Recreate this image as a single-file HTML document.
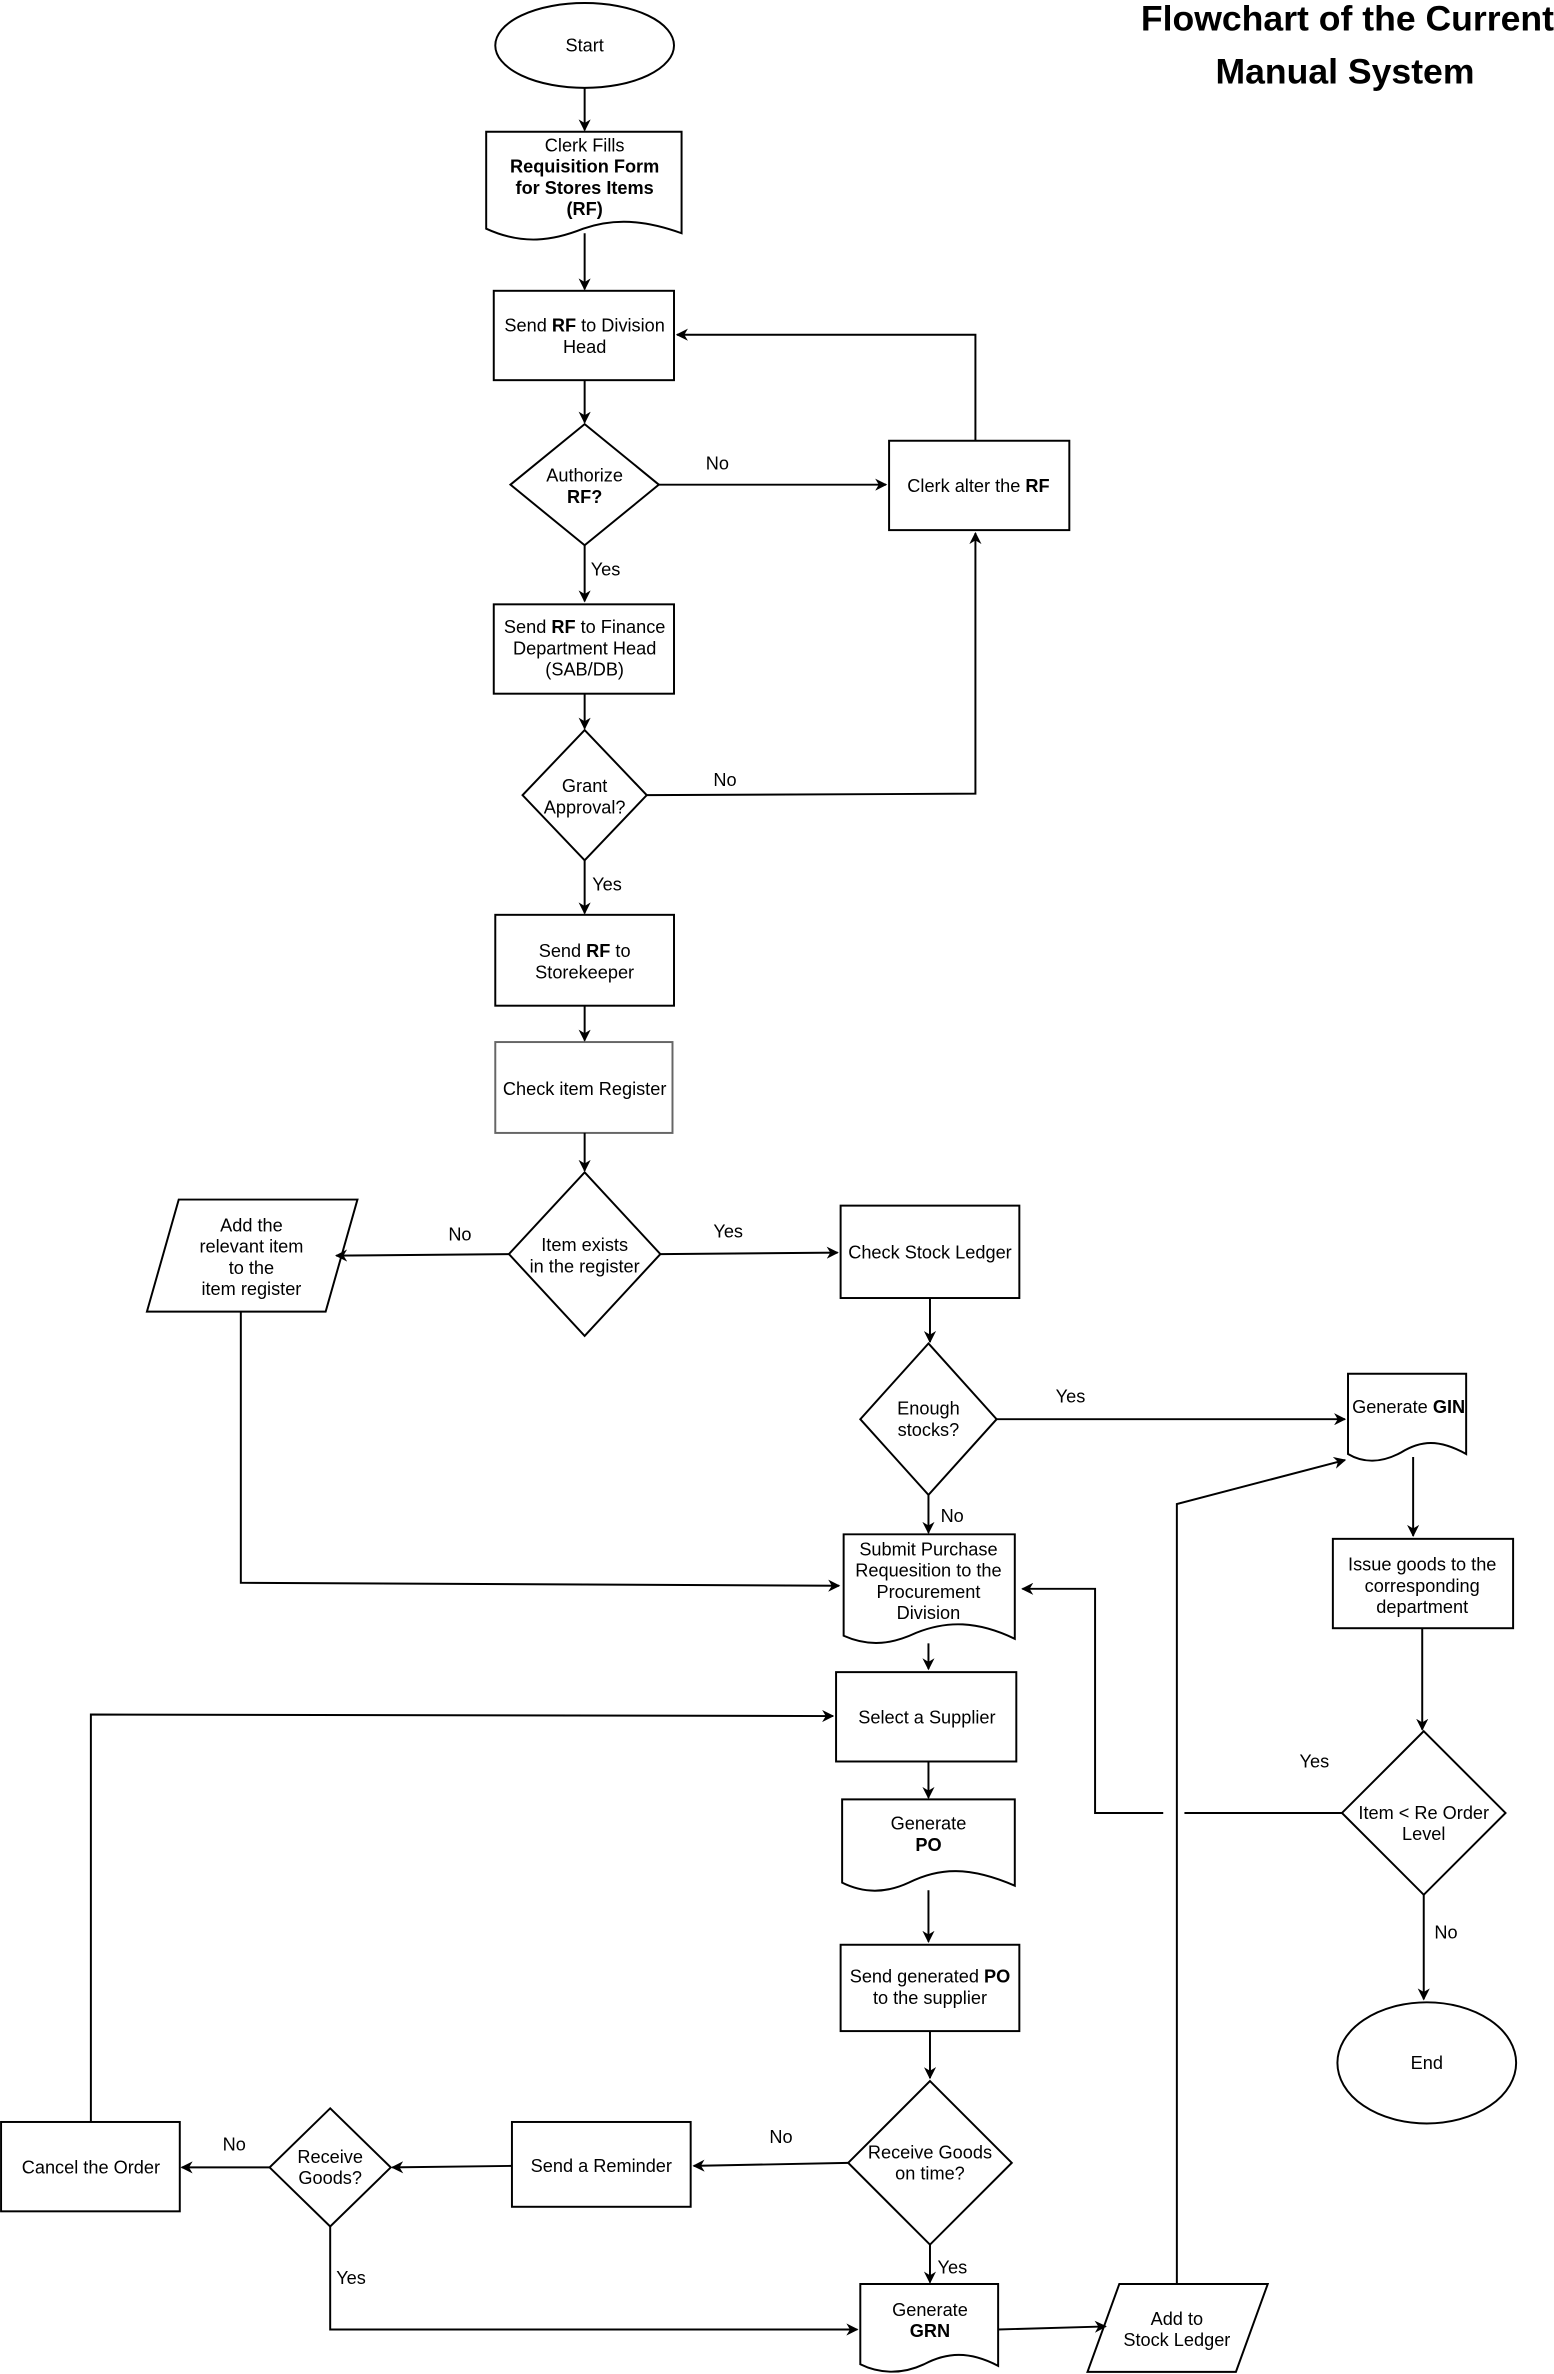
<!DOCTYPE html>
<html><head><meta charset="utf-8"><style>
html,body{margin:0;padding:0;background:#fff}
svg{display:block}
text{font-family:"Liberation Sans",sans-serif;font-size:12px;fill:#000}
.b{font-weight:bold}
</style></head><body>
<svg width="1554" height="2374" viewBox="0 0 1026 1567.4" preserveAspectRatio="none" xmlns="http://www.w3.org/2000/svg">
<defs><marker id="a" viewBox="0 0 10 10" refX="9" refY="5" markerWidth="8" markerHeight="8" orient="auto" markerUnits="userSpaceOnUse"><path d="M0,0 L10,5 L0,10 L3,5 z" fill="#000"/></marker></defs>
<g fill="#fff" stroke="#000" stroke-width="1.3">
<ellipse cx="386" cy="30" rx="59" ry="28"/>
<path d="M321,87 H450 V154 C425,145 405,144 385,151 C365,159 345,162 321,151 Z"/>
<rect x="326" y="192" width="119" height="59"/>
<polygon points="386,280 435,320 386,360 337,320"/>
<rect x="587" y="291" width="119" height="59"/>
<rect x="326" y="399" width="119" height="59"/>
<polygon points="386,482 427,525 386,568 345,525"/>
<rect x="327" y="604" width="118" height="60"/>
<rect x="327" y="688" width="117" height="60" stroke="#666"/>
<polygon points="386,774 436,828 386,882 336,828"/>
<polygon points="118,792 236,792 215,866 97,866"/>
<rect x="555" y="796" width="118" height="61"/>
<polygon points="613,887 658,937 613,987 568,937"/>
<path d="M557,1013 H670 V1082 C645,1070 625,1070 605,1078 C590,1085 575,1088 557,1080 Z"/>
<rect x="552" y="1104" width="119" height="59"/>
<path d="M556,1188 H670 V1245 C640,1232 620,1233 600,1243 C585,1250 570,1250 556,1243 Z"/>
<rect x="555" y="1284" width="118" height="57"/>
<polygon points="614,1374 668,1428 614,1482 560,1428"/>
<rect x="338" y="1401" width="118" height="56"/>
<polygon points="218,1392 258,1431 218,1470 178,1431"/>
<rect x="0.7" y="1401" width="118" height="59"/>
<path d="M568,1508 H659 V1562 C640,1552 625,1553 610,1561 C595,1568 580,1567 568,1561 Z"/>
<polygon points="739,1508 837,1508 816,1566 718,1566"/>
<path d="M890,907 H968 V960 C950,950 938,951 925,959 C912,966 900,966 890,960 Z"/>
<rect x="880" y="1016" width="119" height="59"/>
<polygon points="940,1143 994,1197 940,1251 886,1197"/>
<ellipse cx="942" cy="1362" rx="59" ry="40"/>
</g>
<g fill="none" stroke="#000" stroke-width="1.3">
<path d="M386,58 V86" marker-end="url(#a)"/>
<path d="M386,154 V191" marker-end="url(#a)"/>
<path d="M386,251 V279" marker-end="url(#a)"/>
<path d="M435,320 H585" marker-end="url(#a)"/>
<path d="M644,291 V221 H447" marker-end="url(#a)"/>
<path d="M386,360 V397" marker-end="url(#a)"/>
<path d="M386,458 V481" marker-end="url(#a)"/>
<path d="M427,525 L644,524 V352" marker-end="url(#a)"/>
<path d="M386,568 V603" marker-end="url(#a)"/>
<path d="M386,664 V687" marker-end="url(#a)"/>
<path d="M386,748 V773" marker-end="url(#a)"/>
<path d="M336,828 L222,829" marker-end="url(#a)"/>
<path d="M436,828 L553,827" marker-end="url(#a)"/>
<path d="M614,857 V886" marker-end="url(#a)"/>
<path d="M658,937 H888" marker-end="url(#a)"/>
<path d="M613,987 V1012" marker-end="url(#a)"/>
<path d="M159,866 V1045 L554,1047" marker-end="url(#a)"/>
<path d="M613,1085 V1102" marker-end="url(#a)"/>
<path d="M60,1401 V1132 L550,1133" marker-end="url(#a)"/>
<path d="M613,1163 V1187" marker-end="url(#a)"/>
<path d="M613,1248 V1282" marker-end="url(#a)"/>
<path d="M614,1341 V1372" marker-end="url(#a)"/>
<path d="M560,1428 L458,1430" marker-end="url(#a)"/>
<path d="M338,1430 L259,1431" marker-end="url(#a)"/>
<path d="M178,1431 H120" marker-end="url(#a)"/>
<path d="M218,1470 L218,1538 H566" marker-end="url(#a)"/>
<path d="M614,1482 V1507" marker-end="url(#a)"/>
<path d="M659,1538 L730,1536" marker-end="url(#a)"/>
<path d="M777,1508 V993 L888,964" marker-end="url(#a)"/>
<path d="M933,962 V1014" marker-end="url(#a)"/>
<path d="M939,1075 V1142" marker-end="url(#a)"/>
<path d="M886,1197 H782"/>
<path d="M768,1197 H723 V1049 H675" marker-end="url(#a)"/>
<path d="M940,1251 V1320" marker-end="url(#a)"/>
</g>
<g text-anchor="middle">
<text x="386" y="34">Start</text>
<text x="386" y="100">Clerk Fills</text>
<text x="386" y="114" class="b">Requisition Form</text>
<text x="386" y="128" class="b">for Stores Items</text>
<text x="386" y="142" class="b">(RF)</text>
<text x="386" y="219">Send <tspan class="b">RF</tspan> to Division</text>
<text x="386" y="233">Head</text>
<text x="386" y="318">Authorize</text>
<text x="386" y="332" class="b">RF?</text>
<text x="646" y="325">Clerk alter the <tspan class="b">RF</tspan></text>
<text x="386" y="418">Send <tspan class="b">RF</tspan> to Finance</text>
<text x="386" y="432">Department Head</text>
<text x="386" y="446">(SAB/DB)</text>
<text x="386" y="523">Grant</text>
<text x="386" y="537">Approval?</text>
<text x="386" y="632">Send <tspan class="b">RF</tspan> to</text>
<text x="386" y="646">Storekeeper</text>
<text x="386" y="723">Check item Register</text>
<text x="386" y="826">Item exists</text>
<text x="386" y="840">in the register</text>
<text x="166" y="813">Add the</text>
<text x="166" y="827">relevant item</text>
<text x="166" y="841">to the</text>
<text x="166" y="855">item register</text>
<text x="614" y="831">Check Stock Ledger</text>
<text x="613" y="934">Enough</text>
<text x="613" y="948">stocks?</text>
<text x="613" y="1027">Submit Purchase</text>
<text x="613" y="1041">Requesition to the</text>
<text x="613" y="1055">Procurement</text>
<text x="613" y="1069">Division</text>
<text x="612" y="1138">Select a Supplier</text>
<text x="613" y="1208">Generate</text>
<text x="613" y="1222" class="b">PO</text>
<text x="614" y="1309">Send generated <tspan class="b">PO</tspan></text>
<text x="614" y="1323">to the supplier</text>
<text x="614" y="1425">Receive Goods</text>
<text x="614" y="1439">on time?</text>
<text x="397" y="1434">Send a Reminder</text>
<text x="218" y="1428">Receive</text>
<text x="218" y="1442">Goods?</text>
<text x="60" y="1435">Cancel the Order</text>
<text x="614" y="1529">Generate</text>
<text x="614" y="1543" class="b">GRN</text>
<text x="777" y="1535">Add to</text>
<text x="777" y="1549">Stock Ledger</text>
<text x="930" y="933">Generate <tspan class="b">GIN</tspan></text>
<text x="939" y="1037">Issue goods to the</text>
<text x="939" y="1051">corresponding</text>
<text x="939" y="1065">department</text>
<text x="940" y="1201">Item &lt; Re Order</text>
<text x="940" y="1215">Level</text>
<text x="942" y="1366">End</text>
</g>
<g>
<text x="466" y="310">No</text>
<text x="390" y="380">Yes</text>
<text x="471" y="519">No</text>
<text x="391" y="588">Yes</text>
<text x="296" y="819">No</text>
<text x="471" y="817">Yes</text>
<text x="697" y="926">Yes</text>
<text x="621" y="1005">No</text>
<text x="508" y="1415">No</text>
<text x="147" y="1420">No</text>
<text x="222" y="1508">Yes</text>
<text x="619" y="1501">Yes</text>
<text x="858" y="1167">Yes</text>
<text x="947" y="1280">No</text>
</g>
<text x="1026" y="20" text-anchor="end" class="b" style="font-size:23.5px">Flowchart of the Current</text>
<text x="888" y="55" text-anchor="middle" class="b" style="font-size:23.5px">Manual System</text>
</svg>
</body></html>
